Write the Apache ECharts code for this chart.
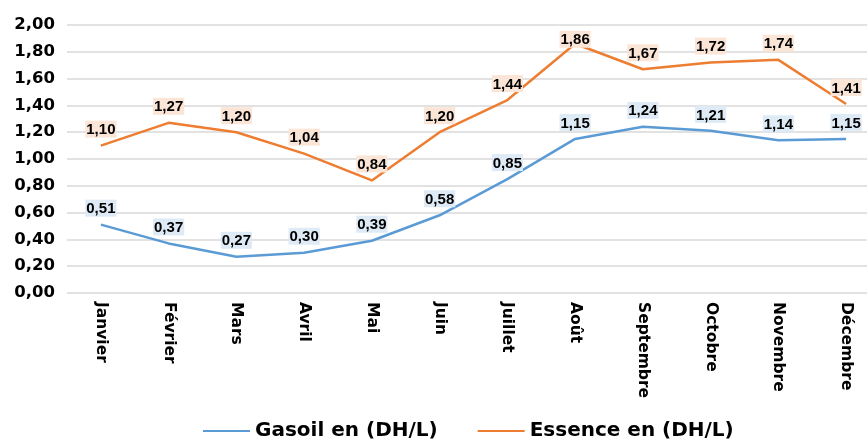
<!DOCTYPE html>
<html><head><meta charset="utf-8">
<script src="https://cdn.jsdelivr.net/npm/echarts@6/dist/echarts.min.js"></script>
<style>html,body{margin:0;padding:0;background:#fff}#c{width:867px;height:442px}</style>
</head><body><div id="c"></div>
<script>
const months = ['Janvier','Février','Mars','Avril','Mai','Juin','Juillet','Août','Septembre','Octobre','Novembre','Décembre'];
const gasoil = [0.51,0.37,0.27,0.30,0.39,0.58,0.85,1.15,1.24,1.21,1.14,1.15];
const essence = [1.10,1.27,1.20,1.04,0.84,1.20,1.44,1.86,1.67,1.72,1.74,1.41];
const fmt = v => Number(v).toFixed(2).replace('.', ',');
const font = 'DejaVu Sans';
const chart = echarts.init(document.getElementById('c'));
function lbl(bg){
  return {show:true, position:'top', distance:8, formatter:p=>fmt(p.value),
    color:'#000', fontFamily:'Liberation Sans', fontWeight:'bold', fontSize:15,
    backgroundColor:bg, padding:[2,1,0,1]};
}
const essenceData = essence.map((v,i)=> i===7 ? {value:v, label:{distance:-4}} : v);
chart.setOption({
  animation:false,
  grid:{left:67, top:25, width:813, height:268, outerBoundsMode:'none', containLabel:false},
  legend:{top:421, left:203, padding:0, itemGap:40, itemWidth:47, itemHeight:2, icon:'rect',
    textStyle:{fontFamily:font, fontWeight:'bold', fontSize:20, color:'#000'}},
  xAxis:{type:'category', data:months, boundaryGap:true,
    axisLine:{show:false}, axisTick:{show:false},
    axisLabel:{rotate:-90, interval:0, margin:9, color:'#000', fontFamily:font, fontWeight:'bold', fontSize:15.5}},
  yAxis:{type:'value', min:0, max:2, interval:0.2,
    axisLabel:{formatter:fmt, margin:12, color:'#000', fontFamily:font, fontWeight:'bold', fontSize:16.5},
    splitLine:{lineStyle:{color:'#d9d9d9', width:1.5}}},
  series:[
    {name:'Gasoil en (DH/L)', type:'line', data:gasoil, symbol:'circle', symbolSize:0, showSymbol:true,
     lineStyle:{color:'#5B9BD5', width:2.5}, itemStyle:{color:'#5B9BD5'}, label:lbl('#DEEBF7')},
    {name:'Essence en (DH/L)', type:'line', data:essenceData, symbol:'circle', symbolSize:0, showSymbol:true,
     lineStyle:{color:'#ED7D31', width:2.5}, itemStyle:{color:'#ED7D31'}, label:lbl('#FBE5D6')}
  ]
});
</script></body></html>
